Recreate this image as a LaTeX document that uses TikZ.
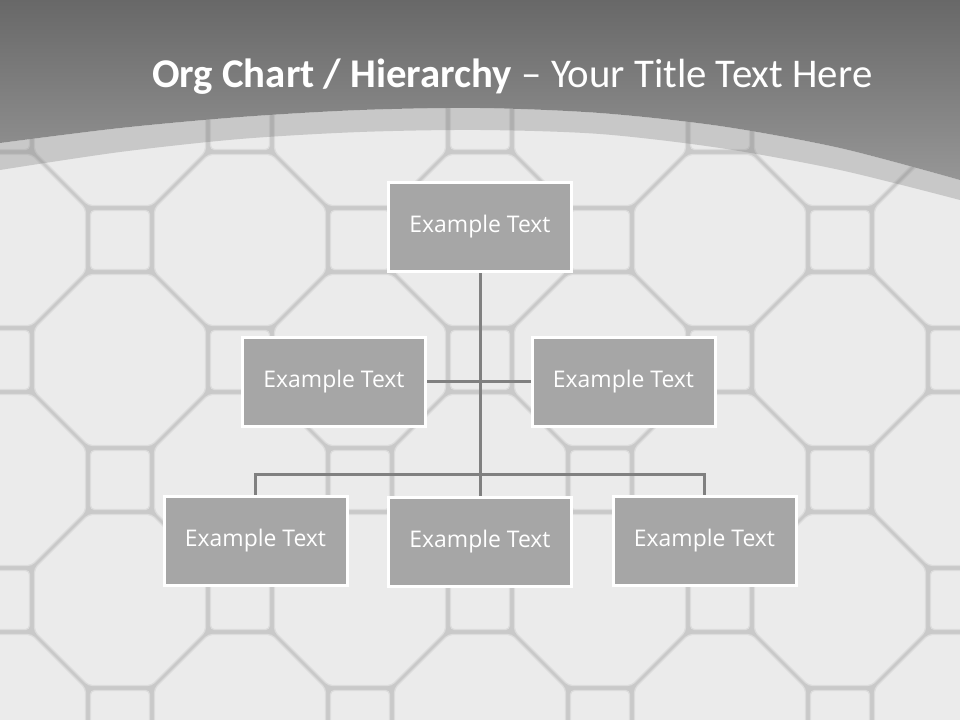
\documentclass[tikz,border=0pt]{standalone}
\usepackage{fontspec}
\setmainfont{Open Sans}
\newfontfamily\titlefont{Carlito}
\definecolor{grout}{HTML}{C9C9C9}
\definecolor{tile}{HTML}{EBEBEB}
\definecolor{tileedge}{HTML}{DCDCDC}
\definecolor{boxfill}{HTML}{A6A6A6}
\definecolor{conncol}{HTML}{808080}
\definecolor{hdrtop}{HTML}{686868}
\definecolor{hdrbot}{HTML}{969696}
\definecolor{bandcol}{HTML}{6F6F6F}
\pgfdeclarelayer{back}
\pgfdeclarelayer{mid}
\pgfsetlayers{back,mid,main}
\tikzset{
  tilestyle/.style={fill=tile, draw=tileedge, line width=0.9pt, rounded corners=3pt},
  orgbox/.style={draw=white, line width=2.25pt, fill=boxfill, minimum width=137.25pt,
     minimum height=66.75pt, inner sep=0pt, text=white, font=\fontsize{17.2}{20}\selectfont},
  connector/.style={draw=conncol, line width=2.25pt},
  titletext/.style={text=white, inner sep=0pt, font=\titlefont\fontsize{30.6}{36}\selectfont}
}
\begin{document}
\begin{tikzpicture}[x=0.75pt, y=-0.75pt]
\useasboundingbox (0,0) rectangle (960,720);
\begin{pgfonlayer}{back}
\begin{scope}
  \clip (0,0) rectangle (960,720);
  \fill[grout] (0,0) rectangle (960,720);
  \foreach \i in {0,...,8}{
    \foreach \j in {0,...,6}{
      \pgfmathtruncatemacro\tpar{mod(\i+\j,2)}
      \begin{scope}[shift={({120*\i},{120*\j})}]
      \ifnum\tpar=0
        \draw[tilestyle] (85.5,31.5) -- (31.5,85.5) -- (-31.5,85.5) -- (-85.5,31.5) -- (-85.5,-31.5)
          -- (-31.5,-85.5) -- (31.5,-85.5) -- (85.5,-31.5) -- cycle;
      \else
        \draw[tilestyle] (-29.5,-29.5) rectangle (29.5,29.5);
      \fi
      \end{scope}
    }
  }
  % translucent band
  \fill[bandcol, opacity=0.28]
    plot[smooth] coordinates {(0,143) (120,128) (240,117) (360,110) (480,108) (600,113) (720,126) (840,148) (960,180)}
    -- (960,200)
    -- plot[smooth] coordinates {(960,200) (840,170) (720,148) (600,134) (480,130) (360,132) (240,139) (120,152) (0,170)}
    -- cycle;
  % header
  \shade[top color=hdrtop, bottom color=hdrbot]
    (0,0) -- (960,0) -- (960,180)
    -- plot[smooth] coordinates {(960,180) (840,148) (720,126) (600,113) (480,108) (360,110) (240,117) (120,128) (0,143)}
    -- cycle;
\end{scope}
\end{pgfonlayer}

\node[titletext, anchor=base west] (title) at (152,88)
  {\textbf{Org Chart / Hierarchy} – Your Title Text Here};

\node[orgbox] (top) at (480,227) {Example Text};
\node[orgbox] (midL) at (334,381.5) {Example Text};
\node[orgbox] (midR) at (623.5,381.5) {Example Text};
\node[orgbox] (botL) at (255.5,540.5) {Example Text};
\node[orgbox] (botC) at (480,541.5) {Example Text};
\node[orgbox] (botR) at (704.5,540.5) {Example Text};

\coordinate (busL) at (255.5,474);
\coordinate (busR) at (704.5,474);
\begin{pgfonlayer}{mid}
\draw[connector] (top.south) -- (botC.north);
\draw[connector] (midL.east) -- (midR.west);
\draw[connector] (botL.north) -- (busL) -- (busR) -- (botR.north);
\end{pgfonlayer}
\end{tikzpicture}
\end{document}
